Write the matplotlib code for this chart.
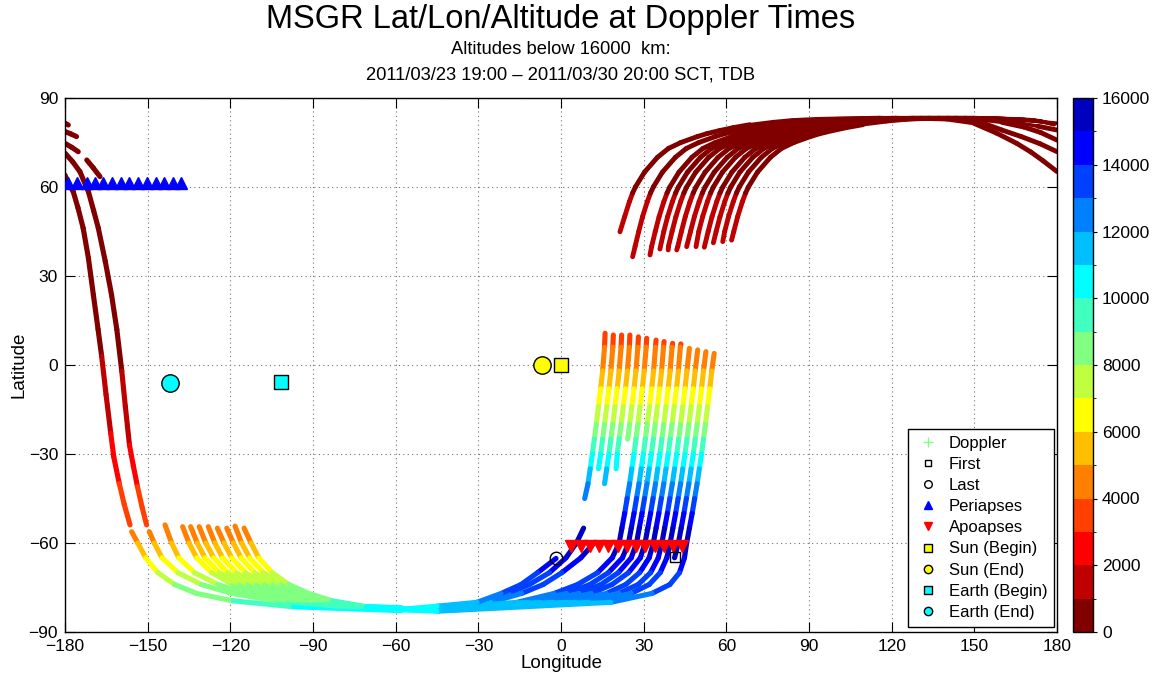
import numpy as np
import matplotlib
matplotlib.use("Agg")
import matplotlib.pyplot as plt
from matplotlib.colors import ListedColormap, BoundaryNorm
from matplotlib.collections import LineCollection
from matplotlib.lines import Line2D
from matplotlib.cm import ScalarMappable

plt.rcParams['font.family'] = ['Liberation Sans', 'DejaVu Sans']

# ---------------- colour scale ----------------
ALT_LEVELS = list(range(0, 16001, 1000))
ALT_COLORS = [(0.5, 0, 0), (0.75, 0, 0), (1, 0, 0), (1, 0.25, 0), (1, 0.5, 0), (1, 0.75, 0),
              (1, 1, 0), (0.75, 1, 0.25), (0.5, 1, 0.5), (0.25, 1, 0.75), (0, 1, 1),
              (0, 0.75, 1), (0, 0.5, 1), (0, 0.25, 1), (0, 0, 1), (0, 0, 0.75)]
CBAR_TICKS = list(range(0, 16001, 2000))
X_TICKS = list(range(-180, 181, 30))
Y_TICKS = list(range(-90, 91, 30))
nan = float('nan')

# ---------------- north arcs (top right) ----------------
A_START_LON = [21.4, 26.0, 32.3, 35.9, 38.9, 42.0, 45.6, 49.0, 52.0, 55.3, 58.7, 61.9]
A_START_LAT = [44.9, 36.5, 37.1, 39.1, 38.8, 38.8, 39.9, 39.9, 39.7, 41.2, 41.6, 42.1]
A_START_ALT = 1900
A_LAT = [40, 45, 50, 55, 58, 60, 65, 70, 73, 75, 77, 78, 79, 80, 81, 82, 82.6, 83]
A_ALT = [1800, 1650, 1450, 1150, 1000, 950, 850, 750, 700, 650, 600, 580, 560, 540, 520, 500, 490, 480]
A_LON = [
    [20.4, 21.7, 23.1, 24.8, 26.0, 27.0, 30.3, 35.0, 39.0, 43.5, 49.5, 53.0, 57.5, 62.5, 68.5, 77.0, 84.0, 93.0],
    [26.9, 28.2, 29.6, 31.3, 32.5, 33.5, 36.8, 41.5, 45.5, 50.0, 56.0, 59.5, 64.0, 69.0, 75.0, 83.5, 90.5, 99.5],
    [32.9, 34.2, 35.6, 37.3, 38.5, 39.5, 42.8, 47.5, 51.5, 56.0, 62.0, 65.5, 70.0, 75.0, 81.0, 89.5, 96.5, 105.5],
    [36.0, 37.3, 38.7, 40.4, 41.6, 42.6, 45.9, 50.6, 54.6, 59.1, 65.1, 68.6, 73.1, 78.1, 84.1, 92.6, 99.6, 108.6],
    [39.0, 40.3, 41.7, 43.4, 44.6, 45.6, 48.9, 53.6, 57.6, 62.1, 68.1, 71.6, 76.1, 81.1, 87.1, 95.6, 102.6, 111.6],
    [42.4, 43.7, 45.1, 46.8, 48.0, 49.0, 52.3, 57.0, 61.0, 65.5, 71.5, 75.0, 79.5, 84.5, 90.5, 99.0, 106.0, 115.0],
    [45.7, 47.0, 48.4, 50.1, 51.3, 52.3, 55.6, 60.3, 64.3, 68.8, 74.8, 78.3, 82.8, 87.8, 93.8, 102.3, 109.3, 118.3],
    [48.7, 50.0, 51.4, 53.1, 54.3, 55.3, 58.6, 63.3, 67.3, 71.8, 77.8, 81.3, 85.8, 90.8, 96.8, 105.3, 112.3, 121.3],
    [52.1, 53.4, 54.8, 56.5, 57.7, 58.7, 62.0, 66.7, 70.7, 75.2, 81.2, 84.7, 89.2, 94.2, 100.2, 108.7, 115.7, 124.7],
    [55.0, 56.3, 57.7, 59.4, 60.6, 61.6, 64.9, 69.6, 73.6, 78.1, 84.1, 87.6, 92.1, 97.1, 103.1, 111.6, 118.6, 127.6],
    [58.1, 59.4, 60.8, 62.5, 63.7, 64.7, 68.0, 72.7, 76.7, 81.2, 87.2, 90.7, 95.2, 100.2, 106.2, 114.7, 121.7, 130.7],
    [61.4, 62.7, 64.1, 65.8, 67.0, 68.0, 71.3, 76.0, 80.0, 84.5, 90.5, 94.0, 98.5, 103.5, 109.5, 118.0, 125.0, 134.0],
]
A_TAIL_ALT = 450
A_TAIL_LON = [
    [115.5, 140, 150, 158, 165.4, 170.5, 175, 180],
    [121.5, 145, 153, 160, 167, 173.8, 180],
    [127.5, 150, 160, 168, 174, 180],
    [130.6, 155, 165, 173, 180],
    [133.6, 160, 172, 180],
    [137.0, 162, 172],
    [140.3, 164, 174],
    [143.3, 166, 175],
    [146.7, 168, 176],
    [149.6, 170, 177],
    [152.7, 172, 178],
    [156.0, 174, 179],
]
A_TAIL_LAT = [
    [83.4, 82.7, 81.4, 78.2, 74.7, 71.8, 68.8, 65.2],
    [83.4, 82.9, 81.6, 79.2, 77.0, 74.6, 71.9],
    [83.4, 82.9, 81.8, 80.2, 78.4, 75.8],
    [83.4, 83.0, 81.8, 80.5, 79.2],
    [83.4, 83.0, 82.2, 81.5],
    [83.4, 83.0, 82.3],
    [83.4, 83.0, 82.2],
    [83.4, 82.9, 82.0],
    [83.4, 82.8, 81.8],
    [83.4, 82.7, 81.6],
    [83.3, 82.5, 81.3],
    [83.3, 82.3, 81.0],
]

# ---------------- tracks entering at the left edge ----------------
LEFT_LON = [
    [-180, -178.8],
    [-180, -177.9, -175.8],
    [-180, -177.6, -175.2],
    [-172.1, -169.7, -167.3],
    [-180, -177.2, -174.6, -171.5, -169.6, -167.9, -165.4, -163.1, -161.2, -159.4,
     -158.1, -156.6, -155.2, -153.7, -152.0, -150.4],
    [-180, -178.6, -177.0, -175.3, -173.4, -171.5, -169.7, -168.0, -166.7, -165.1,
     -163.4, -162.3, -160.3, -158.5, -156.4],
]
LEFT_LAT = [
    [81.5, 80.9],
    [78.7, 77.9, 77.0],
    [74.7, 73.4, 71.9],
    [69.1, 66.4, 63.5],
    [71.4, 68.5, 65.2, 58.4, 52.0, 46.1, 35.0, 23.6, 12.0, -2.0, -14.0, -27.0, -34.0,
     -41.0, -48.0, -53.9],
    [64.0, 61.0, 58.4, 53.0, 46.1, 36.0, 23.6, 12.0, 3.0, -10.0, -23.0, -31.0, -40.0,
     -47.0, -53.9],
]
LEFT_ALT = [
    [400, 400],
    [400, 410, 420],
    [400, 420, 440],
    [460, 480, 500],
    [400, 420, 450, 500, 550, 600, 700, 800, 900, 1000, 1500, 2000, 2500, 3000, 3400, 3800],
    [450, 480, 500, 550, 600, 700, 800, 900, 1000, 1500, 2000, 2500, 3000, 3400, 3800],
]

# ---------------- southern arcs (bottom left) ----------------
B_START_LON = [-155.8, -149.4, -143.7, -137.3, -134.4, -131.3, -128.0, -124.7, -121.3, -118.3, -115.0]
B_START_LAT = [-56.2, -56.2, -53.9, -54.5, -54.5, -54.5, -54.5, -55.0, -55.0, -54.3, -55.0]
B_START_ALT = 4400
B_LAT = [-60, -65, -70, -74, -77, -79.5, -81.5]
B_ALT = [5000, 6000, 7000, 7800, 8400, 9000, 9600]
B_LON = [
    [-153.6, -150.7, -146.3, -140.2, -132.3, -119.0, -97.0],
    [-147.6, -144.8, -139.0, -130.5, -119.5, -103.0, -78.0],
    [-141.3, -138.7, -133.0, -124.5, -114.5, -99.0, -79.0],
    [-135.0, -132.2, -126.8, -119.0, -109.5, -95.5, -77.5],
    [-132.0, -129.2, -124.0, -116.5, -107.0, -93.5, -76.5],
    [-128.9, -126.0, -121.0, -113.5, -104.5, -91.5, -75.5],
    [-125.6, -122.8, -117.8, -110.5, -101.5, -89.5, -74.5],
    [-122.3, -119.5, -114.5, -107.5, -99.0, -88.0, -73.5],
    [-118.9, -116.1, -111.2, -104.5, -96.5, -86.0, -72.5],
    [-115.9, -113.0, -108.0, -101.6, -94.0, -84.5, -71.5],
    [-112.5, -109.7, -104.8, -98.8, -91.5, -83.0, -70.5],
]
B_END_LON = -58.0
B_END_LAT = [-82.8, -82.7, -82.6, -82.5, -82.4, -82.3, -82.2, -82.1, -82.0, -81.9, -81.8]
B_END_ALT = 10400

# ---------------- ascending tracks (right of centre) ----------------
D_TOP_LON = [16.0, 19.0, 22.0, 25.0, 28.1, 31.1, 34.5, 37.4, 40.5, 43.5, 46.6, 49.6, 52.6, 55.6]
D_TOP_LAT = [10.7, 10.1, 10.1, 10.1, 9.5, 9.0, 8.4, 7.9, 7.3, 7.1, 5.6, 5.1, 4.5, 3.9]
D_TOP_ALT = [3200, 3200, 3200, 3200, 3200, 3200, 3200, 3300, 3300, 3300, 3800, 3800, 3800, 3800]
D_LAT = [6, -2, -8, -14, -20, -25, -30, -35, -40, -45, -50, -55, -60, -65, -70, -74, -77, -80]
D_ALT = [4000, 5000, 6000, 7000, 8000, 9000, 10000, 11000, 12000, 13000, 14000, 15000, 15500,
         15000, 14300, 13600, 12900, 12000]
D_LON = [
    [15.8, 15.1, 14.4, 13.6, 12.8, 12.1, 11.4, 10.6, 9.8, 8.6, nan, 8.2, 5.6, 1.8, -4.2, -11.5, -19.0, -28.5],
    [18.8, 18.1, 17.4, 16.6, 15.8, 15.1, 14.4, 13.6, nan, nan, nan, nan, nan, nan, nan, nan, nan, nan],
    [21.8, 21.1, 20.4, 19.6, 18.8, 18.1, 17.4, 16.6, 15.8, nan, nan, nan, 12.0, 7.2, 0.3, -6.5, -14.3, -25.5],
    [24.8, 24.1, 23.4, 22.6, 21.8, 21.1, 20.4, 20.0, nan, nan, nan, nan, nan, nan, nan, nan, nan, nan],
    [27.9, 27.2, 26.5, 25.7, 24.9, 24.2, nan, nan, nan, nan, nan, nan, nan, nan, nan, nan, nan, nan],
    [30.9, 30.2, 29.5, 28.7, 27.9, 27.2, 26.5, 25.7, 24.9, 24.0, 23.1, 22.1, 21.1, 18.6, 13.3, 6.0, -2.5, -16.0],
    [34.3, 33.6, 32.9, 32.1, 31.3, 30.6, 29.9, 29.1, 28.3, 27.4, 26.5, 25.5, 24.5, 22.3, 17.2, 10.5, 2.0, -12.0],
    [37.2, 36.5, 35.8, 35.0, 34.2, 33.5, 32.8, 32.0, 31.2, 30.3, 29.4, 28.4, 27.4, 25.5, 20.8, 14.5, 6.5, -7.5],
    [40.3, 39.6, 38.9, 38.1, 37.3, 36.6, 35.9, 35.1, 34.3, 33.4, 32.5, 31.5, 30.5, 28.8, 24.5, 18.5, 11.0, -3.0],
    [43.3, 42.6, 41.9, 41.1, 40.3, 39.6, 38.9, 38.1, 37.3, 36.4, 35.5, 34.5, 33.5, 32.0, 28.5, 23.5, 16.5, 2.0],
    [nan, 45.7, 45.0, 44.2, 43.4, 42.7, 42.0, 41.2, 40.4, 39.5, 38.6, 37.6, 36.6, 35.3, 32.5, 28.0, 21.0, 5.5],
    [nan, 48.7, 48.0, 47.2, 46.4, 45.7, 45.0, 44.2, 43.4, 42.5, 41.6, 40.6, 39.6, 38.4, 36.0, 32.0, 25.5, 10.0],
    [nan, 51.7, 51.0, 50.2, 49.4, 48.7, 48.0, 47.2, 46.4, 45.5, 44.6, 43.6, 42.6, 41.2, nan, nan, nan, nan],
    [nan, 54.7, 54.0, 53.2, 52.4, 51.7, 51.0, 50.2, 49.4, 48.5, 47.6, 46.6, 45.6, 44.8, 43.0, 39.5, 33.0, 18.0],
]
D_BOT_LAT = [-81.6, nan, -81.9, nan, nan, -82.1, -82.3, -82.4, -82.5, -82.6, -82.7, -82.8, nan, -83.0]
BOT_LON = [-45.0, -58.0]
BOT_ALT = [10900, 10400]
BOT_END_LAT = -82.4

LAST_LON = [-1.8, -8.5, -14.5, -21.7, -30.5]
LAST_LAT = [-65.2, -70.0, -74.0, -77.0, -80.0]
LAST_ALT = [15000, 14300, 13600, 12900, 12000]
LAST_BOT_LAT = -81.3

# ---------------- event markers ----------------
PERI_LON = [-178.8, -175.5, -172.1, -169.1, -166.1, -162.8, -159.7, -156.7, -153.4, -150.4,
            -147.1, -144.1, -140.9, -137.9]
PERI_LAT = [61.2] * 14
APO_LON = [3.8, 7.2, 10.5, 13.9, 17.2, 20.6, 23.9, 27.3, 30.6, 34.0, 37.2, 40.6, 43.9]
APO_LAT = [-61.0] * 13
FIRST_LON, FIRST_LAT = [41.4], [-64.6]
LAST_PT_LON, LAST_PT_LAT = [-1.8], [-65.2]
SUN_BEGIN = ([0.0], [0.0])
SUN_END = ([-6.9], [0.0])
EARTH_BEGIN = ([-101.6], [-5.7])
EARTH_END = ([-141.9], [-6.2])

LEGEND_LABELS = ['Doppler', 'First', 'Last', 'Periapses', 'Apoapses', 'Sun (Begin)',
                 'Sun (End)', 'Earth (Begin)', 'Earth (End)']

TITLE = 'MSGR Lat/Lon/Altitude at Doppler Times'
SUB1 = 'Altitudes below 16000  km:'
SUB2 = '2011/03/23 19:00 \u2013 2011/03/30 20:00 SCT, TDB'

# ---------------- figure ----------------
W, H = 1153, 678
fig = plt.figure(figsize=(W / 100, H / 100), dpi=100)
ax = fig.add_axes([65 / W, 46 / H, 992 / W, 534 / H])
cax = fig.add_axes([1073 / W, 46 / H, 20 / W, 534 / H])

cmap = ListedColormap(ALT_COLORS)
norm = BoundaryNorm(ALT_LEVELS, cmap.N)


def draw_track(lon, lat, alt, lw=4.0, thin_above=None, thin_lw=2.6):
    lon = np.asarray(lon, float)
    lat = np.asarray(lat, float)
    alt = np.asarray(alt, float)
    pts = np.column_stack([lon, lat])
    segs = np.stack([pts[:-1], pts[1:]], axis=1)
    vals = 0.5 * (alt[:-1] + alt[1:])
    ok = np.isfinite(segs).all(axis=(1, 2))
    widths = np.full(len(segs), lw)
    if thin_above is not None:
        widths[np.minimum(lat[:-1], lat[1:]) >= thin_above] = thin_lw
    lc = LineCollection(segs[ok], cmap=cmap, norm=norm, linewidths=widths[ok],
                        capstyle='round', joinstyle='round', zorder=2)
    lc.set_array(vals[ok])
    ax.add_collection(lc)


# north arcs
for i in range(len(A_START_LON)):
    keep = [j for j in range(len(A_LAT)) if A_LAT[j] > A_START_LAT[i] + 1.0]
    lon = [A_START_LON[i]] + [A_LON[i][j] for j in keep] + A_TAIL_LON[i]
    lat = [A_START_LAT[i]] + [A_LAT[j] for j in keep] + A_TAIL_LAT[i]
    alt = [A_START_ALT] + [A_ALT[j] for j in keep] + [A_TAIL_ALT] * len(A_TAIL_LON[i])
    draw_track(lon, lat, alt, lw=3.5, thin_above=80.5)

# left edge
for lo, la, al in zip(LEFT_LON, LEFT_LAT, LEFT_ALT):
    draw_track(lo, la, al, lw=3.7)

# southern arcs
for i in range(len(B_START_LON)):
    lon = [B_START_LON[i]] + B_LON[i] + [B_END_LON]
    lat = [B_START_LAT[i]] + B_LAT + [B_END_LAT[i]]
    alt = [B_START_ALT] + B_ALT + [B_END_ALT]
    draw_track(lon, lat, alt, lw=3.7)

# ascending tracks
for i in range(len(D_TOP_LON)):
    keep = [j for j in range(len(D_LAT)) if D_LAT[j] < D_TOP_LAT[i]]
    lon = [D_TOP_LON[i]] + [D_LON[i][j] for j in keep]
    lat = [D_TOP_LAT[i]] + [D_LAT[j] for j in keep]
    alt = [D_TOP_ALT[i]] + [D_ALT[j] for j in keep]
    if np.isfinite(D_BOT_LAT[i]):
        lon += BOT_LON
        lat += [D_BOT_LAT[i], BOT_END_LAT]
        alt += BOT_ALT
    draw_track(lon, lat, alt, lw=3.7)

draw_track(LAST_LON + BOT_LON, LAST_LAT + [LAST_BOT_LAT, BOT_END_LAT], LAST_ALT + BOT_ALT, lw=3.7)

# markers
ax.plot(PERI_LON, PERI_LAT, ls='none', marker='^', ms=8, color='b', mec='b', zorder=4)
ax.plot(APO_LON, APO_LAT, ls='none', marker='v', ms=8, color='r', mec='r', zorder=4)
ax.plot(FIRST_LON, FIRST_LAT, ls='none', marker='s', ms=7, mfc='none', mec='k', mew=1.0, zorder=5)
ax.plot(LAST_PT_LON, LAST_PT_LAT, ls='none', marker='o', ms=9, mfc='none', mec='k', mew=1.0, zorder=5)
ax.plot(*SUN_BEGIN, ls='none', marker='s', ms=10, mfc='yellow', mec='k', mew=1.0, zorder=5)
ax.plot(*SUN_END, ls='none', marker='o', ms=12.5, mfc='yellow', mec='k', mew=1.0, zorder=5)
ax.plot(*EARTH_BEGIN, ls='none', marker='s', ms=10, mfc='cyan', mec='k', mew=1.0, zorder=5)
ax.plot(*EARTH_END, ls='none', marker='o', ms=12.5, mfc='cyan', mec='k', mew=1.0, zorder=5)

ax.set_xlim(-180, 180)
ax.set_ylim(-90, 90)
ax.set_xticks(X_TICKS)
ax.set_yticks(Y_TICKS)
ax.tick_params(direction='in', top=True, right=True, length=7, width=0.8, labelsize=12.5, pad=5)
ax.grid(True, linestyle=(0, (1, 3)), color='0.45', linewidth=0.8)
ax.set_axisbelow(True)
for s in ax.spines.values():
    s.set_linewidth(1.0)
ax.set_xlabel('Longitude', fontsize=13.5, labelpad=1)
ax.set_ylabel('Latitude', fontsize=13.5, labelpad=1)

handles = [
    Line2D([], [], ls='none', marker='+', color=(0.5, 1, 0.5), ms=7, mew=1.0),
    Line2D([], [], ls='none', marker='s', mfc='none', mec='k', ms=5, mew=1.0),
    Line2D([], [], ls='none', marker='o', mfc='none', mec='k', ms=5.5, mew=1.0),
    Line2D([], [], ls='none', marker='^', color='b', ms=6),
    Line2D([], [], ls='none', marker='v', color='r', ms=6),
    Line2D([], [], ls='none', marker='s', mfc='yellow', mec='k', ms=5.5, mew=1.0),
    Line2D([], [], ls='none', marker='o', mfc='yellow', mec='k', ms=6, mew=1.0),
    Line2D([], [], ls='none', marker='s', mfc='cyan', mec='k', ms=5.5, mew=1.0),
    Line2D([], [], ls='none', marker='o', mfc='cyan', mec='k', ms=6, mew=1.0),
]
leg = ax.legend(handles, LEGEND_LABELS, loc='lower right', bbox_to_anchor=(0.997, 0.01),
                borderaxespad=0, fontsize=12, labelspacing=0.37, handlelength=1.6,
                handletextpad=0.45, borderpad=0.4, fancybox=False, framealpha=1,
                edgecolor='k')
leg.get_frame().set_linewidth(1.0)
leg.set_zorder(10)

sm = ScalarMappable(norm=norm, cmap=cmap)
cb = fig.colorbar(sm, cax=cax, ticks=CBAR_TICKS)
cb.ax.tick_params(labelsize=12.5, direction='out', length=3, width=0.8)
cb.outline.set_linewidth(1.0)

cx = (65 + 1057) / 2 / W
fig.text(cx, 1 - 28 / H, TITLE, ha='center', va='baseline', fontsize=23.5)
fig.text(cx, 1 - 54 / H, SUB1, ha='center', va='baseline', fontsize=13.2)
fig.text(cx, 1 - 79 / H, SUB2, ha='center', va='baseline', fontsize=13.2)

fig.savefig('out.png', dpi=100)
